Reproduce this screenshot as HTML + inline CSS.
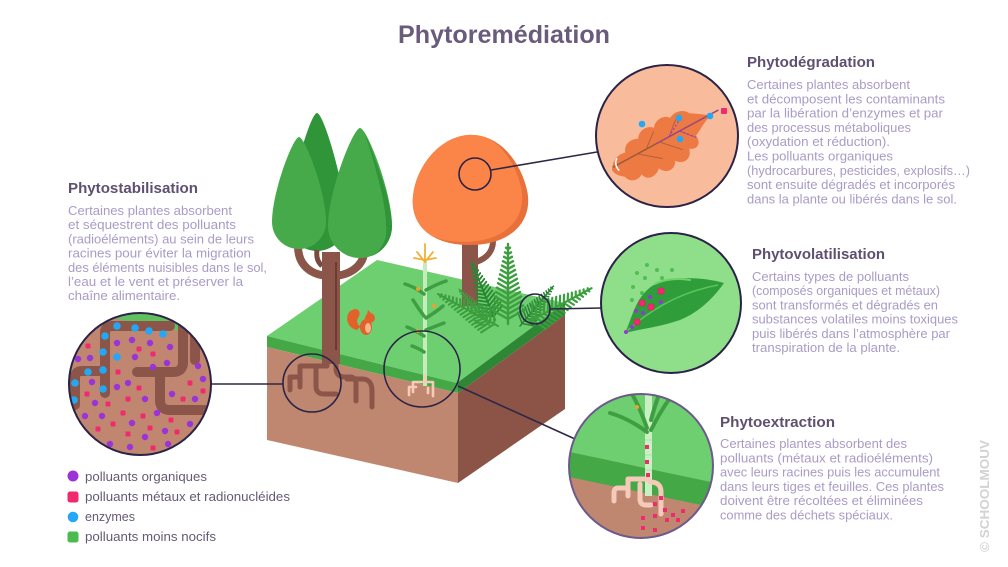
<!DOCTYPE html>
<html><head><meta charset="utf-8"><style>
html,body{margin:0;padding:0;background:#fff;}
svg{display:block;}
text{font-family:"Liberation Sans",sans-serif;}
.h{font-weight:bold;font-size:15px;fill:#5f4f70;}
.b{font-size:13px;fill:#a99bc6;}
.lg{font-size:13px;fill:#655a74;}
</style></head><body>
<svg width="1008" height="567" viewBox="0 0 1008 567" xmlns="http://www.w3.org/2000/svg">
<defs>
<clipPath id="c1"><circle cx="140" cy="384" r="71"/></clipPath>
<clipPath id="c2"><circle cx="667" cy="136" r="71"/></clipPath>
<clipPath id="c3"><circle cx="671" cy="303" r="70"/></clipPath>
<clipPath id="c4"><circle cx="641" cy="466" r="72"/></clipPath>
<clipPath id="blob"><path d="M468,135 C498,133 520,160 527,190 C534,222 510,245 470,245 C432,245 410,226 413,196 C416,166 440,137 468,135Z"/></clipPath>
<path id="frond" d="M0,0V-80 M0,-5l-16,-9m16,9l16,-9 M0,-10l-15,-8.5m15,8.5l15,-8.5 M0,-15l-14,-8m14,8l14,-8 M0,-20l-13,-7.5m13,7.5l13,-7.5 M0,-25l-12,-7m12,7l12,-7 M0,-30l-11,-6.4m11,6.4l11,-6.4 M0,-35l-10,-5.8m10,5.8l10,-5.8 M0,-40l-9,-5.2m9,5.2l9,-5.2 M0,-45l-8,-4.6m8,4.6l8,-4.6 M0,-50l-7,-4m7,4l7,-4 M0,-55l-6,-3.4m6,3.4l6,-3.4 M0,-60l-5,-2.8m5,2.8l5,-2.8 M0,-65l-4,-2.2m4,2.2l4,-2.2 M0,-70l-3,-1.6m3,1.6l3,-1.6 M0,-75l-2,-1.2m2,1.2l2,-1.2" fill="none" stroke-width="2.4" stroke-linecap="round"/>
</defs>

<!-- Title -->
<text x="398" y="43" font-size="25" font-weight="bold" fill="#6a5a7c" textLength="212" lengthAdjust="spacingAndGlyphs">Phytoremédiation</text>

<!-- ===== Central block ===== -->
<path d="M317,113 C324,113 346,190 346,222 A29,29 0 0 1 288,222 C288,190 310,113 317,113Z" fill="#2f9538"/>
<path d="M331,276 C312,276 298,266 298,246" fill="none" stroke="#8b5649" stroke-width="8"/>
<path d="M331,276 C350,276 362,266 364,254" fill="none" stroke="#8b5649" stroke-width="8"/>
<path d="M322,266 C318,262 316,258 317,250" fill="none" stroke="#7a4a3f" stroke-width="5"/>
<path d="M299,137 C305,137 326,192 326,222 A27,27 0 0 1 272,222 C272,192 293,137 299,137Z" fill="#46aa4a"/>
<path d="M360,128 C367,128 392,192 392,226 A32,32 0 0 1 328,226 C328,192 353,128 360,128Z" fill="#46aa4a"/>
<path d="M364,131 C372,150 392,200 392,226 A32,32 0 0 1 372,256 A30,30 0 0 0 386,226 C386,200 372,155 364,131Z" fill="#2f9538"/>

<!-- ground block -->
<polygon points="267,336 377,260 565,303 457,383" fill="#6dcf6f"/>
<polygon points="267,336 457,383 458,393 267,347" fill="#45a846"/>
<polygon points="457,383 565,303 565,315 458,393" fill="#2d8734"/>
<polygon points="267,347 458,393 458,483 267,440" fill="#bf876f"/>
<polygon points="458,393 565,315 565,409 458,483" fill="#8b5446"/>

<rect x="322" y="252" width="18" height="112" fill="#8b5649"/>
<rect x="335" y="262" width="2" height="88" fill="#6e3b33"/>

<!-- orange tree -->
<rect x="462" y="236" width="16" height="70" fill="#8b5649"/>
<path d="M476,262 C488,258 493,250 493,241" fill="none" stroke="#8b5649" stroke-width="6"/>
<path d="M468,135 C498,133 520,160 527,190 C534,222 510,245 470,245 C432,245 410,226 413,196 C416,166 440,137 468,135Z" fill="#e8703a"/>
<g clip-path="url(#blob)">
<path transform="translate(-6,-3)" d="M468,135 C498,133 520,160 527,190 C534,222 510,245 470,245 C432,245 410,226 413,196 C416,166 440,137 468,135Z" fill="#fb8448"/>
</g>

<!-- fern -->
<g stroke="#2b8535">
<use href="#frond" transform="translate(495,320) rotate(-22) scale(0.78)"/>
<use href="#frond" transform="translate(520,326) rotate(40) scale(0.65)"/>
</g>
<g stroke="#3d9e40">
<use href="#frond" transform="translate(508,324)"/>
<use href="#frond" transform="translate(528,322) rotate(62) scale(0.9)"/>
<use href="#frond" transform="translate(498,326) rotate(-62) scale(0.85)"/>
<use href="#frond" transform="translate(490,326) rotate(-40) scale(0.6)"/>
</g>

<!-- corn plant -->
<path d="M425,386 V262" stroke="#c4ecbc" stroke-width="4"/>
<g fill="none" stroke="#f0b035" stroke-width="1.8" stroke-linecap="round">
<path d="M425,262 V244"/><path d="M425,262 L417,252"/><path d="M425,262 L433,252"/><path d="M425,260 L414,258"/><path d="M425,260 L436,258"/>
</g>
<g fill="none" stroke="#3f9e42" stroke-width="3.5" stroke-linecap="round">
<path d="M424,294 Q415,287 405,284"/>
<path d="M426,290 Q437,284 446,281"/>
<path d="M424,316 Q418,308 413,300"/>
<path d="M426,318 Q436,312 443,306"/>
<path d="M424,336 Q415,330 407,327"/>
<path d="M426,330 Q436,326 444,323"/>
<path d="M424,352 Q418,348 412,346"/>
</g>
<g fill="#f0a030"><circle cx="418" cy="289" r="2"/><circle cx="434" cy="306" r="2"/><circle cx="418" cy="331" r="2"/></g>

<!-- squirrel -->
<path d="M357,330 C346,328 344,314 352,310 C358,307 362,312 358,318 C356,322 358,326 361,326Z" fill="#e2612b"/>
<ellipse cx="366" cy="327" rx="6" ry="8" fill="#e2612b"/>
<ellipse cx="368" cy="328" rx="3" ry="5" fill="#f4b58f"/>
<circle cx="370" cy="318" r="5" fill="#e2612b"/>
<path d="M367,314 L368,310 L371,313Z" fill="#e2612b"/>

<!-- roots under left tree -->
<g fill="none" stroke="#8b5649" stroke-width="5" stroke-linecap="round" stroke-linejoin="round">
<path d="M327,358 V366 H300 V387"/>
<path d="M300,377 H290 V390"/>
<path d="M316,368 V386 Q316,394 324,394 H336"/>
<path d="M336,358 V368 Q336,377 345,377 H350 Q356,377 356,384 V401"/>
<path d="M347,379 H362 Q372,379 372,391 V407"/>
</g>
<g fill="none" stroke="#f6cbb8" stroke-width="2.6" stroke-linecap="round" stroke-linejoin="round">
<path d="M425,375 V382 H413 V392"/>
<path d="M425,382 H433 V396"/>
<path d="M416,387 H409 V395"/>
<path d="M428,388 V393"/>
</g>

<g fill="none" stroke="#2b2347" stroke-width="1.6">
<circle cx="312" cy="383" r="29"/>
<circle cx="422" cy="369" r="38"/>
<circle cx="475" cy="174" r="16"/>
<circle cx="535" cy="309" r="15"/>
</g>
<g stroke="#2e2746" stroke-width="1.6">
<line x1="211" y1="384" x2="283" y2="384"/>
<line x1="491" y1="170" x2="597" y2="152"/>
<line x1="550" y1="309" x2="602" y2="308"/>
<line x1="458" y1="386" x2="575" y2="439"/>
</g>

<!-- ===== Circle 1 ===== -->
<g clip-path="url(#c1)">
<rect x="60" y="300" width="170" height="170" fill="#c08670"/>
<polygon points="95,300 205,300 215,350 190,333 112,318" fill="#5fc060"/>
<g fill="none" stroke="#8b5549" stroke-width="10" stroke-linecap="round" stroke-linejoin="round">
<path d="M170,326 H112 Q105,326 105,333 V393"/>
<path d="M105,371 H82 Q75,371 75,378 V405"/>
<path d="M183,300 V362 Q183,372 173,372 H137"/>
<path d="M160,372 V400 Q160,410 170,410 H205"/>
<path d="M195,320 V360"/>
</g>
<g fill="#22a8f5">
<circle cx="117" cy="326" r="3.8"/><circle cx="135" cy="328" r="3.8"/><circle cx="149" cy="331" r="3.8"/><circle cx="163" cy="334" r="3.8"/>
<circle cx="105" cy="336" r="3.8"/><circle cx="103" cy="352" r="3.8"/><circle cx="117" cy="357" r="3.8"/><circle cx="103" cy="370" r="3.8"/><circle cx="103" cy="389" r="3.8"/><circle cx="88" cy="372" r="3.8"/><circle cx="75" cy="383" r="3.8"/><circle cx="74" cy="400" r="3.8"/>
</g>
<g fill="#9a34d9">
<circle cx="117" cy="343" r="3.2"/><circle cx="132" cy="340" r="3.2"/><circle cx="150" cy="343" r="3.2"/><circle cx="170" cy="347" r="3.2"/><circle cx="78" cy="359" r="3.2"/><circle cx="90" cy="358" r="3.2"/><circle cx="135" cy="357" r="3.2"/><circle cx="167" cy="363" r="3.2"/><circle cx="153" cy="367" r="3.2"/><circle cx="198" cy="366" r="3.2"/><circle cx="92" cy="382" r="3.2"/><circle cx="117" cy="387" r="3.2"/><circle cx="128" cy="383" r="3.2"/><circle cx="203" cy="379" r="3.2"/><circle cx="145" cy="399" r="3.2"/><circle cx="172" cy="394" r="3.2"/><circle cx="195" cy="399" r="3.2"/><circle cx="95" cy="403" r="3.2"/><circle cx="85" cy="416" r="3.2"/><circle cx="102" cy="416" r="3.2"/><circle cx="157" cy="413" r="3.2"/><circle cx="190" cy="424" r="3.2"/><circle cx="132" cy="423" r="3.2"/><circle cx="165" cy="431" r="3.2"/><circle cx="145" cy="437" r="3.2"/><circle cx="110" cy="444" r="3.2"/><circle cx="130" cy="447" r="3.2"/><circle cx="168" cy="444" r="3.2"/>
</g>
<g fill="#ef2b6e">
<rect x="85.5" y="343.5" width="5" height="5" rx="1"/><rect x="136.5" y="346.5" width="5" height="5" rx="1"/><rect x="150.5" y="351.5" width="5" height="5" rx="1"/><rect x="115.5" y="369.5" width="5" height="5" rx="1"/><rect x="136.5" y="385.5" width="5" height="5" rx="1"/><rect x="187.5" y="380.5" width="5" height="5" rx="1"/><rect x="200.5" y="388.5" width="5" height="5" rx="1"/><rect x="84.5" y="391.5" width="5" height="5" rx="1"/><rect x="105.5" y="401.5" width="5" height="5" rx="1"/><rect x="125.5" y="396.5" width="5" height="5" rx="1"/><rect x="180.5" y="396.5" width="5" height="5" rx="1"/><rect x="120.5" y="410.5" width="5" height="5" rx="1"/><rect x="140.5" y="413.5" width="5" height="5" rx="1"/><rect x="168.5" y="417.5" width="5" height="5" rx="1"/><rect x="95.5" y="426.5" width="5" height="5" rx="1"/><rect x="110.5" y="421.5" width="5" height="5" rx="1"/><rect x="125.5" y="431.5" width="5" height="5" rx="1"/><rect x="147.5" y="425.5" width="5" height="5" rx="1"/><rect x="174.5" y="429.5" width="5" height="5" rx="1"/><rect x="150.5" y="445.5" width="5" height="5" rx="1"/>
</g>
</g>
<circle cx="140" cy="384" r="71" fill="none" stroke="#2b2347" stroke-width="2"/>

<!-- ===== Circle 2 ===== -->
<g clip-path="url(#c2)">
<rect x="590" y="60" width="160" height="160" fill="#f8bb9c"/>
<g transform="translate(612,170) rotate(-28.5)">
<path d="M0,0 C5,-8 12,-11 20,-9 C22,-16 30,-19 38,-15 C42,-22 52,-23 57,-17 C62,-24 72,-24 76,-18 C82,-22 92,-20 95,-13 C100,-10 104,-7 110,-3 L110,0 C100,4 95,8 90,10 C92,18 85,24 78,18 C76,28 66,30 60,22 C56,30 46,30 42,21 C36,27 26,27 24,18 C18,22 10,20 8,12 C4,9 0,5 0,0Z" fill="#ee7a43"/>
<path d="M2,-2 L122,-2" stroke="#9a5a3a" stroke-width="1.5"/>
<path d="M30,-2 L50,14 M55,-2 L72,16 M78,-2 L88,10 M40,-2 L55,-14 M66,-2 L80,-14" stroke="#b0603a" stroke-width="1"/>
<path d="M52,-2 L122,-2 M78,-2 L90,12 M66,-2 L85,-13" stroke="#9a34d9" stroke-width="1.2" stroke-dasharray="2,2"/>
<path d="M6,4 Q4,-4 10,-8" fill="none" stroke="#fff" stroke-width="1.5"/>
</g>
<g fill="#22a8f5"><circle cx="642" cy="124" r="3.3"/><circle cx="679" cy="118" r="3.3"/><circle cx="680" cy="139" r="3.3"/><circle cx="710" cy="116" r="3.3"/></g>
<rect x="721" y="108" width="6" height="6" rx="1" fill="#ef2b6e"/>
</g>
<circle cx="667" cy="136" r="71" fill="none" stroke="#2b2347" stroke-width="2"/>

<!-- ===== Circle 3 ===== -->
<g clip-path="url(#c3)">
<rect x="595" y="228" width="155" height="150" fill="#8fdf8a"/>
<g fill="#4fbf50"><circle cx="637" cy="273" r="2"/><circle cx="647" cy="265" r="2"/><circle cx="657" cy="270" r="2"/><circle cx="672" cy="270" r="2"/><circle cx="645" cy="278" r="2"/><circle cx="633" cy="287" r="2"/><circle cx="632" cy="300" r="2"/><circle cx="662" cy="278" r="2"/><circle cx="642" cy="293" r="2"/></g>
<path d="M625,333 C632,318 635,298 652,286 C668,276 700,276 724,283 C715,296 700,312 680,320 C660,327 640,329 625,333Z" fill="#2f9e3a"/>
<path d="M627,331 C650,310 680,292 718,285" fill="none" stroke="#5cc45c" stroke-width="1.5"/>
<path d="M655,284 C665,279 678,278 690,280" fill="none" stroke="#6fd06e" stroke-width="2" stroke-linecap="round"/>
<g fill="#ef2b6e" stroke="#d0205a" stroke-width="0.5"><rect x="658" y="288" width="6" height="6" rx="1"/><rect x="639" y="300" width="6" height="6" rx="1"/><rect x="648" y="304" width="6" height="6" rx="1"/><rect x="634" y="319" width="6" height="6" rx="1"/></g>
<g fill="#9a34d9"><circle cx="650" cy="297" r="2"/><circle cx="661" cy="302" r="2"/><circle cx="643" cy="313" r="2"/><circle cx="636" cy="311" r="2"/><circle cx="632" cy="327" r="2"/><circle cx="626" cy="332" r="2"/></g>
</g>
<circle cx="671" cy="303" r="70" fill="none" stroke="#2b2347" stroke-width="2"/>

<!-- ===== Circle 4 ===== -->
<g clip-path="url(#c4)">
<rect x="565" y="390" width="155" height="150" fill="#bf8670"/>
<path d="M560,380 H720 V484 L560,450Z" fill="#6dcf6f"/>
<path d="M560,450 L720,484 V509 L560,475Z" fill="#45a846"/>
<rect x="645" y="390" width="7" height="106" fill="#c9f0c2"/>
<g stroke="#a8dca0" stroke-width="0.8"><line x1="645" y1="440" x2="652" y2="440"/><line x1="645" y1="455" x2="652" y2="455"/><line x1="645" y1="470" x2="652" y2="470"/></g>
<g fill="none" stroke="#3f9e42" stroke-width="4" stroke-linecap="round">
<path d="M647,432 Q628,418 610,413"/>
<path d="M647,428 Q640,408 632,394"/>
<path d="M651,430 Q660,412 670,398"/>
<path d="M651,420 Q655,405 660,392"/>
</g>
<circle cx="637" cy="407" r="2" fill="#f0a030"/>
<g fill="none" stroke="#f6cab8" stroke-width="5" stroke-linecap="round" stroke-linejoin="round">
<path d="M648,479 H628 V496"/>
<path d="M628,488 H618 Q614,488 614,493 V501"/>
<path d="M640,484 V499 Q640,505 646,505 H651"/>
<path d="M650,482 Q661,482 661,492 V514"/>
</g>
<g fill="#ef2b6e">
<rect x="645" y="445" width="4" height="4"/><rect x="645" y="460" width="4" height="4"/><rect x="646" y="473" width="4" height="4"/><rect x="659" y="496" width="4" height="4"/>
<rect x="653" y="502" width="4" height="4"/><rect x="671" y="513" width="4" height="4"/><rect x="681" y="509" width="4" height="4"/><rect x="641" y="516" width="4" height="4"/><rect x="653" y="514" width="4" height="4"/><rect x="665" y="518" width="4" height="4"/><rect x="676" y="518" width="4" height="4"/><rect x="641" y="526" width="4" height="4"/><rect x="653" y="528" width="4" height="4"/><rect x="663" y="508" width="4" height="4"/>
</g>
</g>
<circle cx="641" cy="466" r="72" fill="none" stroke="#6b5a8a" stroke-width="2"/>

<!-- ===== Texts ===== -->
<text class="h" x="68" y="193" textLength="130" lengthAdjust="spacingAndGlyphs">Phytostabilisation</text>
<text class="b" x="68" y="215" textLength="164" lengthAdjust="spacingAndGlyphs">Certaines plantes absorbent</text>
<text class="b" x="68" y="229.2" textLength="168" lengthAdjust="spacingAndGlyphs">et séquestrent des polluants</text>
<text class="b" x="68" y="243.4" textLength="186" lengthAdjust="spacingAndGlyphs">(radioéléments) au sein de leurs</text>
<text class="b" x="68" y="257.6" textLength="183" lengthAdjust="spacingAndGlyphs">racines pour éviter la migration</text>
<text class="b" x="68" y="271.8" textLength="199" lengthAdjust="spacingAndGlyphs">des éléments nuisibles dans le sol,</text>
<text class="b" x="68" y="286" textLength="175" lengthAdjust="spacingAndGlyphs">l’eau et le vent et préserver la</text>
<text class="b" x="68" y="300.2" textLength="112" lengthAdjust="spacingAndGlyphs">chaîne alimentaire.</text>

<text class="h" x="747" y="67" textLength="128" lengthAdjust="spacingAndGlyphs">Phytodégradation</text>
<text class="b" x="747" y="89" textLength="163" lengthAdjust="spacingAndGlyphs">Certaines plantes absorbent</text>
<text class="b" x="747" y="103.3" textLength="198" lengthAdjust="spacingAndGlyphs">et décomposent les contaminants</text>
<text class="b" x="747" y="117.6" textLength="196" lengthAdjust="spacingAndGlyphs">par la libération d’enzymes et par</text>
<text class="b" x="747" y="131.9" textLength="164" lengthAdjust="spacingAndGlyphs">des processus métaboliques</text>
<text class="b" x="747" y="146.2" textLength="143" lengthAdjust="spacingAndGlyphs">(oxydation et réduction).</text>
<text class="b" x="747" y="160.5" textLength="146" lengthAdjust="spacingAndGlyphs">Les polluants organiques</text>
<text class="b" x="747" y="174.8" textLength="223" lengthAdjust="spacingAndGlyphs">(hydrocarbures, pesticides, explosifs…)</text>
<text class="b" x="747" y="189.1" textLength="208" lengthAdjust="spacingAndGlyphs">sont ensuite dégradés et incorporés</text>
<text class="b" x="747" y="203.4" textLength="210" lengthAdjust="spacingAndGlyphs">dans la plante ou libérés dans le sol.</text>

<text class="h" x="752" y="259" textLength="133" lengthAdjust="spacingAndGlyphs">Phytovolatilisation</text>
<text class="b" x="752" y="281" textLength="157" lengthAdjust="spacingAndGlyphs">Certains types de polluants</text>
<text class="b" x="752" y="295.2" textLength="188" lengthAdjust="spacingAndGlyphs">(composés organiques et métaux)</text>
<text class="b" x="752" y="309.4" textLength="186" lengthAdjust="spacingAndGlyphs">sont transformés et dégradés en</text>
<text class="b" x="752" y="323.6" textLength="206" lengthAdjust="spacingAndGlyphs">substances volatiles moins toxiques</text>
<text class="b" x="752" y="337.8" textLength="198" lengthAdjust="spacingAndGlyphs">puis libérés dans l’atmosphère par</text>
<text class="b" x="752" y="352" textLength="148" lengthAdjust="spacingAndGlyphs">transpiration de la plante.</text>

<text class="h" x="720" y="427" textLength="115" lengthAdjust="spacingAndGlyphs">Phytoextraction</text>
<text class="b" x="720" y="448" textLength="187" lengthAdjust="spacingAndGlyphs">Certaines plantes absorbent des</text>
<text class="b" x="720" y="462.3" textLength="213" lengthAdjust="spacingAndGlyphs">polluants (métaux et radioéléments)</text>
<text class="b" x="720" y="476.6" textLength="220" lengthAdjust="spacingAndGlyphs">avec leurs racines puis les accumulent</text>
<text class="b" x="720" y="490.9" textLength="224" lengthAdjust="spacingAndGlyphs">dans leurs tiges et feuilles. Ces plantes</text>
<text class="b" x="720" y="505.2" textLength="203" lengthAdjust="spacingAndGlyphs">doivent être récoltées et éliminées</text>
<text class="b" x="720" y="519.5" textLength="173" lengthAdjust="spacingAndGlyphs">comme des déchets spéciaux.</text>

<!-- Legend -->
<circle cx="73" cy="476" r="5.5" fill="#9a34d9"/>
<rect x="67.5" y="491.5" width="11" height="11" rx="2.5" fill="#ef2b6e"/>
<circle cx="73" cy="517" r="5.3" fill="#22a8f5"/>
<rect x="67.5" y="531.5" width="11" height="11" rx="2.5" fill="#4cbb4f"/>
<text class="lg" x="85" y="481" textLength="122" lengthAdjust="spacingAndGlyphs">polluants organiques</text>
<text class="lg" x="85" y="501" textLength="205" lengthAdjust="spacingAndGlyphs">polluants métaux et radionucléides</text>
<text class="lg" x="85" y="521" textLength="50" lengthAdjust="spacingAndGlyphs">enzymes</text>
<text class="lg" x="85" y="541" textLength="131" lengthAdjust="spacingAndGlyphs">polluants moins nocifs</text>

<text transform="translate(989,552) rotate(-90)" font-size="13" font-weight="bold" fill="#d2d2d2" textLength="112" lengthAdjust="spacingAndGlyphs">© SCHOOLMOUV</text>
</svg>
</body></html>
